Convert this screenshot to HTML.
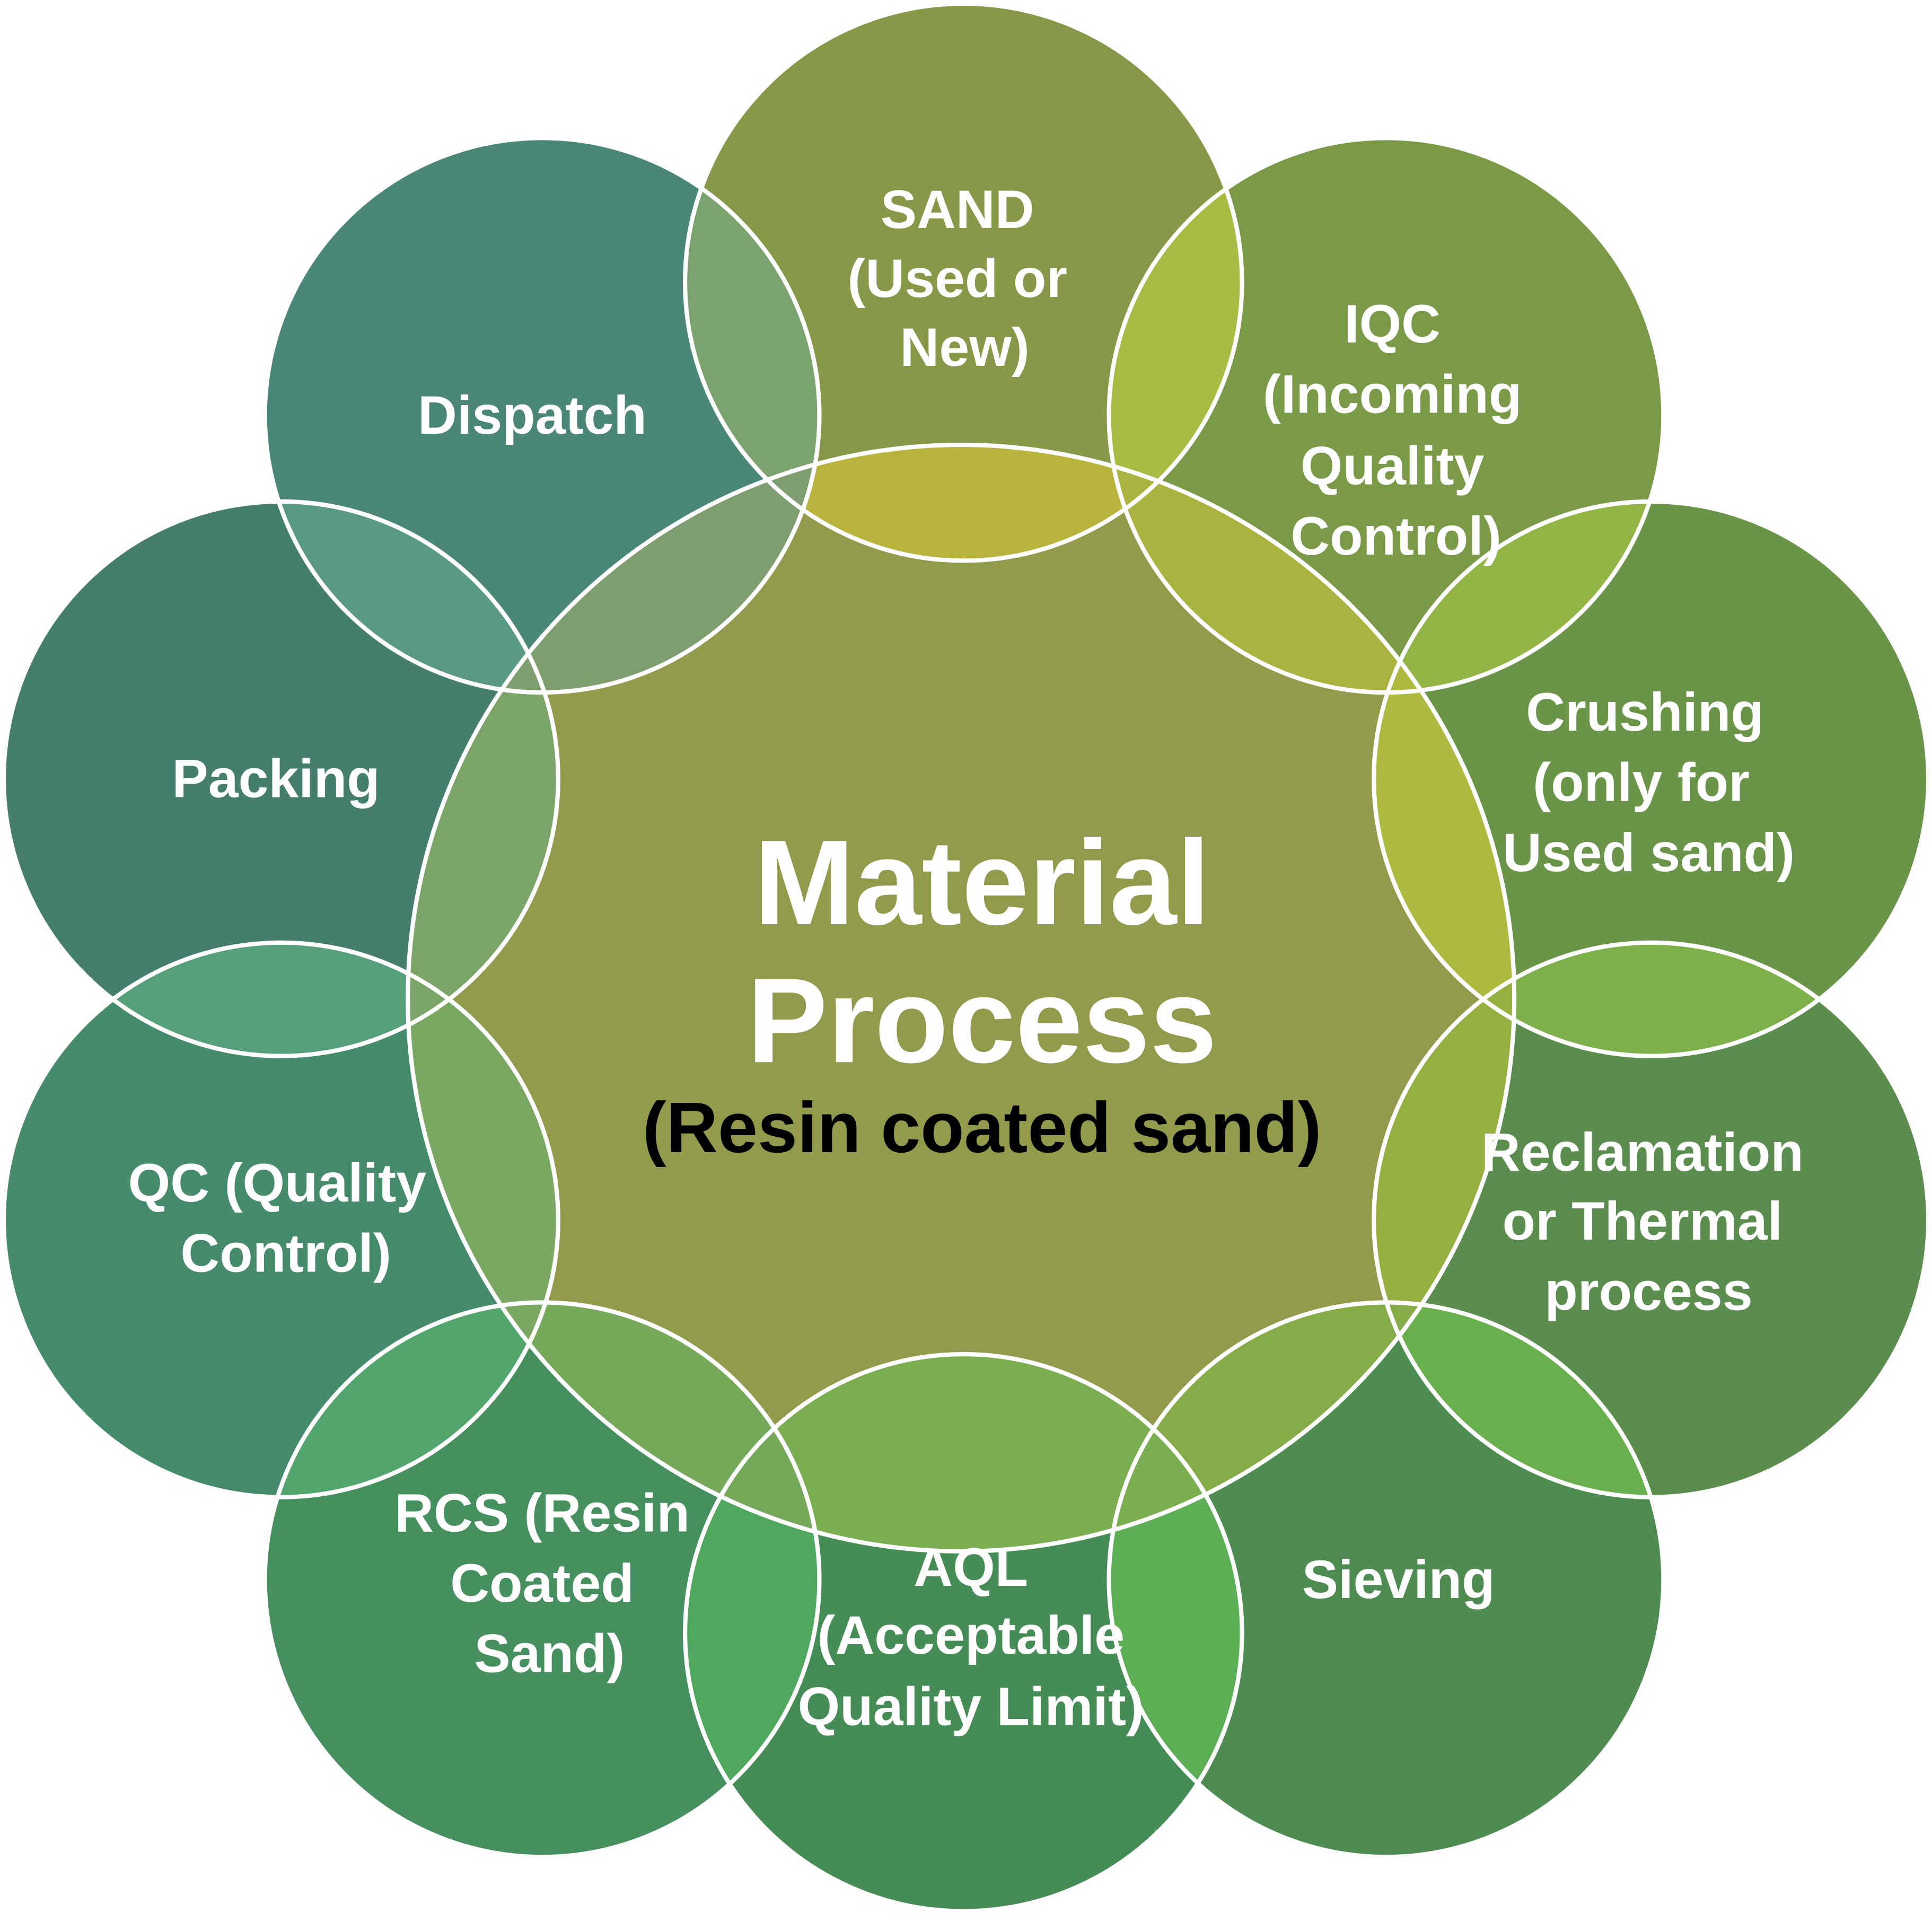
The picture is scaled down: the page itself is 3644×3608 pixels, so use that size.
<!DOCTYPE html>
<html><head><meta charset="utf-8"><style>
html,body{margin:0;padding:0;background:#fff;}
svg{display:block;}
text{font-family:"Liberation Sans",sans-serif;fill:#fff;text-anchor:middle;font-weight:bold;}
</style></head><body>
<svg width="3644" height="3608" viewBox="0 0 1568 1552.5" xmlns="http://www.w3.org/2000/svg">
<defs>
<clipPath id="cC"><circle cx="780" cy="810" r="449"/></clipPath>
<clipPath id="c0"><circle cx="782" cy="229" r="226"/></clipPath>
<clipPath id="c1"><circle cx="1125" cy="337" r="225"/></clipPath>
<clipPath id="c2"><circle cx="1340" cy="632" r="225"/></clipPath>
<clipPath id="c3"><circle cx="1340" cy="990" r="225"/></clipPath>
<clipPath id="c4"><circle cx="1125" cy="1282" r="225"/></clipPath>
<clipPath id="c5"><circle cx="782" cy="1325" r="226"/></clipPath>
<clipPath id="c6"><circle cx="440" cy="1282" r="225"/></clipPath>
<clipPath id="c7"><circle cx="228" cy="990" r="225"/></clipPath>
<clipPath id="c8"><circle cx="228" cy="632" r="225"/></clipPath>
<clipPath id="c9"><circle cx="440" cy="337" r="225"/></clipPath>
</defs>
<circle cx="782" cy="229" r="226" fill="#879848"/>
<circle cx="1125" cy="337" r="225" fill="#7A9A48"/>
<circle cx="1340" cy="632" r="225" fill="#6A9548"/>
<circle cx="1340" cy="990" r="225" fill="#5A8D4E"/>
<circle cx="1125" cy="1282" r="225" fill="#4E8C52"/>
<circle cx="782" cy="1325" r="226" fill="#468C56"/>
<circle cx="440" cy="1282" r="225" fill="#45905E"/>
<circle cx="228" cy="990" r="225" fill="#468B6C"/>
<circle cx="228" cy="632" r="225" fill="#467E6E"/>
<circle cx="440" cy="337" r="225" fill="#4A8778"/>
<circle cx="782" cy="229" r="226" fill="#7BA36F" clip-path="url(#c9)"/>
<circle cx="782" cy="229" r="226" fill="#A8BC44" clip-path="url(#c1)"/>
<circle cx="1125" cy="337" r="225" fill="#93B545" clip-path="url(#c2)"/>
<circle cx="1340" cy="632" r="225" fill="#7DAF4A" clip-path="url(#c3)"/>
<circle cx="1340" cy="990" r="225" fill="#6AAF4E" clip-path="url(#c4)"/>
<circle cx="1125" cy="1282" r="225" fill="#5CAF55" clip-path="url(#c5)"/>
<circle cx="782" cy="1325" r="226" fill="#50A75E" clip-path="url(#c6)"/>
<circle cx="440" cy="1282" r="225" fill="#52A56C" clip-path="url(#c7)"/>
<circle cx="228" cy="990" r="225" fill="#55A07A" clip-path="url(#c8)"/>
<circle cx="228" cy="632" r="225" fill="#5B9A82" clip-path="url(#c9)"/>
<circle cx="780" cy="810" r="449" fill="#939A4C"/>
<g clip-path="url(#cC)">
<circle cx="782" cy="229" r="226" fill="#B8B43E"/>
<circle cx="1125" cy="337" r="225" fill="#AAB33F"/>
<circle cx="1340" cy="632" r="225" fill="#ADB93F"/>
<circle cx="1340" cy="990" r="225" fill="#95B040"/>
<circle cx="1125" cy="1282" r="225" fill="#86AC4A"/>
<circle cx="782" cy="1325" r="226" fill="#7BAE50"/>
<circle cx="440" cy="1282" r="225" fill="#76A85A"/>
<circle cx="228" cy="990" r="225" fill="#7AA862"/>
<circle cx="228" cy="632" r="225" fill="#7BA468"/>
<circle cx="440" cy="337" r="225" fill="#7E9E70"/>
</g>
<g fill="none" stroke="#fff" stroke-width="3.5">
<circle cx="780" cy="810" r="449"/>
<circle cx="782" cy="229" r="226"/>
<circle cx="1125" cy="337" r="225"/>
<circle cx="1340" cy="632" r="225"/>
<circle cx="1340" cy="990" r="225"/>
<circle cx="1125" cy="1282" r="225"/>
<circle cx="782" cy="1325" r="226"/>
<circle cx="440" cy="1282" r="225"/>
<circle cx="228" cy="990" r="225"/>
<circle cx="228" cy="632" r="225"/>
<circle cx="440" cy="337" r="225"/>
</g>
<g font-size="44">
<text x="777" y="185">SAND</text>
<text x="777" y="241">(Used or</text>
<text x="783" y="297">New)</text>
<text x="432" y="352">Dispatch</text>
<text x="1130" y="278">IQC</text>
<text x="1130" y="335">(Incoming</text>
<text x="1130" y="393">Quality</text>
<text x="1133" y="450">Control)</text>
<text x="1335" y="593">Crushing</text>
<text x="1332" y="650">(only for</text>
<text x="1338" y="707">Used sand)</text>
<text x="1333" y="950">Reclamation</text>
<text x="1333" y="1006">or Thermal</text>
<text x="1338" y="1063">process</text>
<text x="1135" y="1297">Sieving</text>
<text x="788" y="1287">AQL</text>
<text x="788" y="1342">(Acceptable</text>
<text x="788" y="1400">Quality Limit)</text>
<text x="440" y="1243">RCS (Resin</text>
<text x="440" y="1300">Coated</text>
<text x="446" y="1357">Sand)</text>
<text x="225" y="975">QC (Quality</text>
<text x="232" y="1032">Control)</text>
<text x="224" y="647">Packing</text>
</g>
<text x="797" y="750" font-size="98">Material</text>
<text x="797" y="862" font-size="98">Process</text>
<text x="797" y="935" font-size="58" style="fill:#000">(Resin coated sand)</text>
</svg>
</body></html>
